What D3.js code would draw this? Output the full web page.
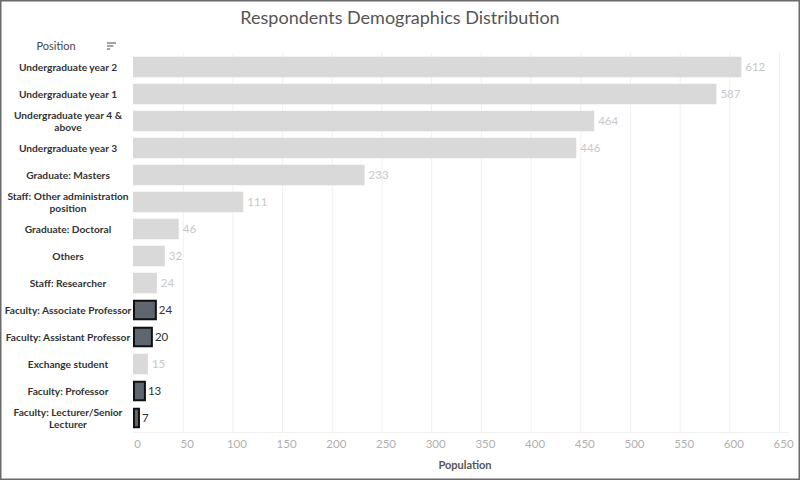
<!DOCTYPE html>
<html><head><meta charset="utf-8">
<script src="https://cdn.jsdelivr.net/npm/d3@7"></script>
<style>body{margin:0;background:#fff;} svg{display:block;font-family:Lato,"Open Sans",sans-serif;}</style>
</head><body>
<svg id="c" width="800" height="480"></svg>
<script>
const categories = ["Undergraduate year 2","Undergraduate year 1","Undergraduate year 4 & above","Undergraduate year 3","Graduate: Masters","Staff: Other administration position","Graduate: Doctoral","Others","Staff: Researcher","Faculty: Associate Professor","Faculty: Assistant Professor","Exchange student","Faculty: Professor","Faculty: Lecturer/Senior Lecturer"];
const values = [612,587,464,446,233,111,46,32,24,24,20,15,13,7];
const highlighted = ["Faculty: Associate Professor","Faculty: Assistant Professor","Faculty: Professor","Faculty: Lecturer/Senior Lecturer"];
const xTicks = [0,50,100,150,200,250,300,350,400,450,500,550,600,650];
const title = "Respondents Demographics Distribution";

const data = categories.map((c,i)=>({c, v:values[i], h: highlighted.includes(c)}));
const svg = d3.select("#c");
svg.append("rect").attr("x",0.75).attr("y",0.75).attr("width",798.5).attr("height",478.5).attr("fill","#fff").attr("stroke","#6b6b6b").attr("stroke-width",1.5);

const x = d3.scaleLinear().domain([0,660]).range([133,789]);
const y = d3.scaleBand().domain(categories).range([53.5,431.5]).paddingInner(0.24).paddingOuter(0.12);

svg.append("text").attr("x",400).attr("y",24).attr("text-anchor","middle").attr("font-size",18).attr("fill","#555").text(title);

// gridlines
svg.append("g").selectAll("line").data(xTicks.slice(1)).join("line")
  .attr("x1",d=>x(d)+0.5).attr("x2",d=>x(d)+0.5).attr("y1",53).attr("y2",432)
  .attr("stroke","#f0f0f0").attr("stroke-width",1);
svg.append("line").attr("x1",133).attr("x2",789).attr("y1",432.5).attr("y2",432.5).attr("stroke","#f0f0f0");

// axis
const ax = svg.append("g").attr("transform","translate(0,433)")
  .call(d3.axisBottom(x).tickValues(xTicks).tickSize(0).tickPadding(7));
ax.select(".domain").remove();
ax.selectAll("text").attr("font-size",11.5).attr("fill","#b0b0b0").attr("dx",4).style("font-family","Lato,sans-serif");
svg.append("text").attr("x",465).attr("y",469).attr("text-anchor","middle").attr("font-size",11).attr("font-weight","bold").attr("fill","#555").text("Population");

// bars
svg.append("g").selectAll("rect").data(data).join("rect")
  .attr("x",d=>x(0)+(d.h?1:0)).attr("y",d=>y(d.c)+(d.h?1:0))
  .attr("width",d=>Math.max(0,x(d.v)-x(0)-(d.h?2:0))).attr("height",d=>y.bandwidth()-(d.h?2:0))
  .attr("fill",d=>d.h?"#5f6670":"#d9d9da")
  .attr("stroke",d=>d.h?"#111":"none").attr("stroke-width",2);

svg.append("g").selectAll("text").data(data).join("text")
  .attr("x",d=>x(d.v)+(d.h?2:4)).attr("y",d=>y(d.c)+y.bandwidth()/2).attr("dy","0.35em")
  .attr("font-size",11.5).attr("fill",d=>d.h?"#333":"#c8c8c8").text(d=>d.v);

// category labels with wrapping
const FS = 10.2, LIMIT = 134;
const lg = svg.append("g");
data.forEach(d=>{
  const t = lg.append("text").attr("x",68).attr("text-anchor","middle").attr("font-size",FS).attr("font-weight","bold").attr("fill","#333");
  const words = d.c.split(" ");
  const lines=[]; let cur=[];
  const probe = lg.append("text").attr("font-size",FS).attr("font-weight","bold");
  words.forEach(w=>{
    const test=[...cur,w].join(" ");
    probe.text(test);
    if(probe.node().getComputedTextLength()>LIMIT && cur.length){lines.push(cur.join(" "));cur=[w];}
    else cur.push(w);
  });
  lines.push(cur.join(" "));
  probe.remove();
  const cy = y(d.c)+y.bandwidth()/2;
  const lh=12;
  lines.forEach((l,i)=>{
    t.append("tspan").attr("x",68).attr("y",cy+(i-(lines.length-1)/2)*lh).attr("dy","0.35em").text(l);
  });
});

// header
svg.append("text").attr("x",56).attr("y",50).attr("text-anchor","middle").attr("font-size",11).attr("fill","#444").text("Position");
const icon = svg.append("g").attr("stroke","#666").attr("stroke-width",1.2);
[[107,116,43],[107,113.5,46],[107,110,49]].forEach(a=>icon.append("line").attr("x1",a[0]).attr("x2",a[1]).attr("y1",a[2]).attr("y2",a[2]));
</script>
</body></html>
